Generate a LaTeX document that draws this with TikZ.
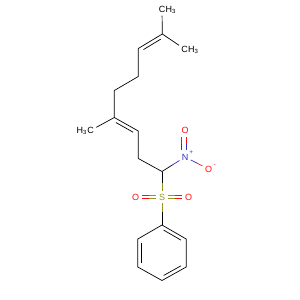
\documentclass[tikz,border=0pt]{standalone}
\usepackage{fontspec}
\setmainfont{Liberation Sans}
\usetikzlibrary{calc}
\definecolor{nblue}{RGB}{48,48,200}
\definecolor{ored}{RGB}{255,13,13}
\definecolor{solive}{RGB}{150,150,30}
\newcommand\dblin[4]{\draw ($(#1)!0.14!(#2)!3.6pt!#3:(#2)$) -- ($(#2)!0.14!(#1)!3.6pt!#4:(#1)$);}
\begin{document}
\begin{tikzpicture}[x=1pt,y=-1pt,line width=0.7pt,
  atom/.style={circle,inner sep=1.2pt,font=\fontsize{9}{10}\selectfont},
  hsub/.style={inner sep=0pt,font=\fontsize{9}{10}\selectfont},
  chg/.style={inner sep=0pt,font=\fontsize{6.5}{7}\selectfont}]
\useasboundingbox (0,0) rectangle (300,300);
% carbon skeleton
\coordinate (C1) at (162.3,34);
\coordinate (C2) at (138.3,48.5);
\coordinate (C3) at (138.3,76.5);
\coordinate (C4) at (114.3,90.5);
\coordinate (C5) at (114.3,117.5);
\coordinate (C6) at (138.3,131);
\coordinate (C7) at (138.3,158.5);
\coordinate (Ca) at (162,171.5);
\coordinate (P1) at (162,225);
\coordinate (P2) at (186.2,239);
\coordinate (P3) at (186.2,267);
\coordinate (P4) at (162,280.5);
\coordinate (P5) at (137.8,267);
\coordinate (P6) at (137.8,239);
% labelled atoms
\node[atom] (Mt) at (162,9) {C};
\node[hsub,anchor=base west] (Mth) at ($(Mt.base)+(3.3,0)$) {H\textsubscript{3}};
\node[atom] (Mr) at (184.5,49) {C};
\node[hsub,anchor=base west] (Mrh) at ($(Mr.base)+(3.3,0)$) {H\textsubscript{3}};
\node[atom] (M5) at (90.5,130.5) {C};
\node[hsub,anchor=base east] (M5h) at ($(M5.base)+(-3.3,0)$) {H\textsubscript{3}};
\node[atom,text=nblue] (N) at (185,157) {N};
\node[chg,text=nblue] (Nc) at ($(N)+(6.3,-4.5)$) {+};
\node[atom,text=ored] (Ot) at (185,130) {O};
\node[atom,text=ored] (Om) at (208.5,169) {O};
\node[chg,text=ored] (Omc) at ($(Om)+(6.3,-3.5)$) {-};
\node[atom,text=solive] (S) at (162,197) {S};
\node[atom,text=ored] (OL) at (135.5,197) {O};
\node[atom,text=ored] (OR) at (188.5,197) {O};
% chain bonds
\draw (C1) -- (C2) -- (C3) -- (C4) -- (C5) -- (C6) -- (C7) -- (Ca);
\dblin{C1}{C2}{90}{-90}
\dblin{C5}{C6}{-90}{90}
\draw (C1) -- (Mt);
\draw (C1) -- (Mr);
\draw (C5) -- (M5);
% nitro group
\draw (Ca) -- ($(Ca)!0.45!(N)$);
\draw[nblue] ($(Ca)!0.45!(N)$) -- (N);
\foreach \d in {1.5,-3.3}{
  \draw[nblue] ($(N.north)+(\d,0)$) -- ($(N.north)!0.5!(Ot.south)+(\d,0)$);
  \draw[ored] ($(N.north)!0.5!(Ot.south)+(\d,0)$) -- ($(Ot.south)+(\d,0)$);
}
\draw[nblue] (N) -- ($(N)!0.5!(Om)$);
\draw[ored] ($(N)!0.5!(Om)$) -- (Om);
% sulfonyl
\draw (Ca) -- ($(Ca)!0.45!(S)$);
\draw[solive] ($(Ca)!0.45!(S)$) -- (S);
\draw[solive] (S) -- ($(S)!0.55!(P1)$);
\draw ($(S)!0.55!(P1)$) -- (P1);
\foreach \d in {-1.8,1.8}{
  \draw[solive] ($(S.west)+(0,\d)$) -- ($(S.west)!0.5!(OL.east)+(0,\d)$);
  \draw[ored] ($(S.west)!0.5!(OL.east)+(0,\d)$) -- ($(OL.east)+(0,\d)$);
  \draw[solive] ($(S.east)+(0,\d)$) -- ($(S.east)!0.5!(OR.west)+(0,\d)$);
  \draw[ored] ($(S.east)!0.5!(OR.west)+(0,\d)$) -- ($(OR.west)+(0,\d)$);
}
% phenyl ring
\draw (P1) -- (P2) -- (P3) -- (P4) -- (P5) -- (P6) -- cycle;
\dblin{P1}{P2}{-90}{90}
\dblin{P3}{P4}{-90}{90}
\dblin{P5}{P6}{-90}{90}
\end{tikzpicture}
\end{document}
